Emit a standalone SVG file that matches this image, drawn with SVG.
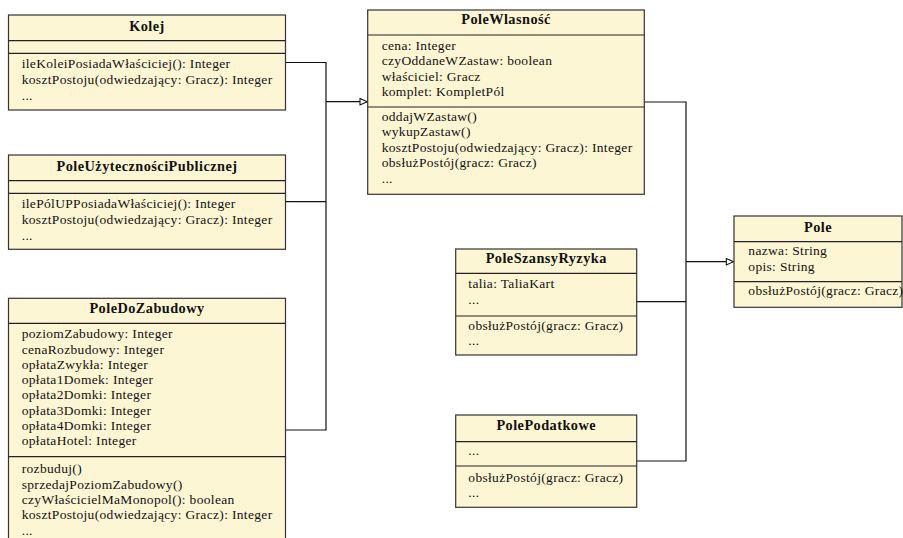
<svg xmlns="http://www.w3.org/2000/svg" width="903" height="538" viewBox="0 0 903 538">
  <style>
    .box { fill: #fdf6d4; stroke: #333; stroke-width: 1.2; }
    .div { stroke: #222; stroke-width: 1.2; }
    .t { font-family: 'Liberation Serif', 'Times New Roman', 'DejaVu Serif', serif; font-size: 13.5px; letter-spacing: 0.33px; fill: #111; }
    .h { font-family: 'Liberation Serif', 'Times New Roman', 'DejaVu Serif', serif; font-size: 14.3px; letter-spacing: 0.45px; font-weight: bold; fill: #111; text-anchor: middle; }
    .c { fill: none; stroke: #111; stroke-width: 1.2; }
  </style>
  <defs>
    <marker id="gen" viewBox="0 0 10 10" refX="9.5" refY="5" markerWidth="9" markerHeight="8" markerUnits="userSpaceOnUse" orient="auto">
      <path d="M0.5,1 L9.5,5 L0.5,9 Z" fill="#fff" stroke="#111" stroke-width="1.3"/>
    </marker>
  </defs>

  <!-- inheritance connectors -->
  <g id="connectors">
    <path class="c" d="M285.5,62.5 H326 V430 H285.5"/>
    <path class="c" d="M285.5,201.7 H326"/>
    <path class="c" d="M326,101.7 H367.2" marker-end="url(#gen)"/>
    <path class="c" d="M644.3,102 H686 V461 H636.7"/>
    <path class="c" d="M636.7,301.7 H686"/>
    <path class="c" d="M686,261.7 H733.5" marker-end="url(#gen)"/>
  </g>

  <g id="kolej">
    <rect class="box" x="8.5" y="15" width="277" height="95"/>
    <line class="div" x1="8.5" y1="40.7" x2="285.5" y2="40.7"/>
    <line class="div" x1="8.5" y1="53.3" x2="285.5" y2="53.3"/>
    <text class="h" x="147" y="30.7">Kolej</text>
    <text class="t" x="21.7" y="68">ileKoleiPosiadaWłaściciej(): Integer</text>
    <text class="t" x="21.7" y="84">kosztPostoju(odwiedzający: Gracz): Integer</text>
    <text class="t" x="21.7" y="100">...</text>
  </g>

  <g id="poleUzytecznosciPublicznej">
    <rect class="box" x="8.5" y="155" width="277" height="94.3"/>
    <line class="div" x1="8.5" y1="180.7" x2="285.5" y2="180.7"/>
    <line class="div" x1="8.5" y1="193.3" x2="285.5" y2="193.3"/>
    <text class="h" x="147" y="170.7">PoleUżytecznościPublicznej</text>
    <text class="t" x="21.7" y="208.3">ilePólUPPosiadaWłaściciej(): Integer</text>
    <text class="t" x="21.7" y="224">kosztPostoju(odwiedzający: Gracz): Integer</text>
    <text class="t" x="21.7" y="240">...</text>
  </g>

  <g id="poleDoZabudowy">
    <rect class="box" x="8.5" y="298.3" width="277" height="250"/>
    <line class="div" x1="8.5" y1="323.3" x2="285.5" y2="323.3"/>
    <line class="div" x1="8.5" y1="456.7" x2="285.5" y2="456.7"/>
    <text class="h" x="147" y="313.3">PoleDoZabudowy</text>
    <text class="t" x="21.7" y="338.3">poziomZabudowy: Integer</text>
    <text class="t" x="21.7" y="353.5">cenaRozbudowy: Integer</text>
    <text class="t" x="21.7" y="368.8">opłataZwykła: Integer</text>
    <text class="t" x="21.7" y="384.1">opłata1Domek: Integer</text>
    <text class="t" x="21.7" y="399.4">opłata2Domki: Integer</text>
    <text class="t" x="21.7" y="414.7">opłata3Domki: Integer</text>
    <text class="t" x="21.7" y="430">opłata4Domki: Integer</text>
    <text class="t" x="21.7" y="445.2">opłataHotel: Integer</text>
    <text class="t" x="21.7" y="473.3">rozbuduj()</text>
    <text class="t" x="21.7" y="488.6">sprzedajPoziomZabudowy()</text>
    <text class="t" x="21.7" y="504">czyWłaścicielMaMonopol(): boolean</text>
    <text class="t" x="21.7" y="519.3">kosztPostoju(odwiedzający: Gracz): Integer</text>
    <text class="t" x="21.7" y="534.7">...</text>
  </g>

  <g id="poleWlasnosc">
    <rect class="box" x="367.7" y="10" width="276.6" height="184.3"/>
    <line class="div" x1="367.7" y1="35" x2="644.3" y2="35"/>
    <line class="div" x1="367.7" y1="107" x2="644.3" y2="107"/>
    <text class="h" x="506" y="24">PoleWlasność</text>
    <text class="t" x="381.7" y="50">cena: Integer</text>
    <text class="t" x="381.7" y="65.3">czyOddaneWZastaw: boolean</text>
    <text class="t" x="381.7" y="80.6">właściciel: Gracz</text>
    <text class="t" x="381.7" y="96">komplet: KompletPól</text>
    <text class="t" x="381.7" y="121">oddajWZastaw()</text>
    <text class="t" x="381.7" y="136.4">wykupZastaw()</text>
    <text class="t" x="381.7" y="151.8">kosztPostoju(odwiedzający: Gracz): Integer</text>
    <text class="t" x="381.7" y="167.2">obsłużPostój(gracz: Gracz)</text>
    <text class="t" x="381.7" y="182.6">...</text>
  </g>

  <g id="poleSzansyRyzyka">
    <rect class="box" x="455.7" y="249" width="181" height="106"/>
    <line class="div" x1="455.7" y1="273.3" x2="636.7" y2="273.3"/>
    <line class="div" x1="455.7" y1="316" x2="636.7" y2="316"/>
    <text class="h" x="546.2" y="263.3">PoleSzansyRyzyka</text>
    <text class="t" x="468.3" y="288.3">talia: TaliaKart</text>
    <text class="t" x="468.3" y="303.5">...</text>
    <text class="t" x="468.3" y="330">obsłużPostój(gracz: Gracz)</text>
    <text class="t" x="468.3" y="345.3">...</text>
  </g>

  <g id="polePodatkowe">
    <rect class="box" x="455.7" y="415" width="181" height="92.3"/>
    <line class="div" x1="455.7" y1="441.7" x2="636.7" y2="441.7"/>
    <line class="div" x1="455.7" y1="466" x2="636.7" y2="466"/>
    <text class="h" x="546.2" y="430">PolePodatkowe</text>
    <text class="t" x="468.3" y="455">...</text>
    <text class="t" x="468.3" y="481.7">obsłużPostój(gracz: Gracz)</text>
    <text class="t" x="468.3" y="497">...</text>
  </g>

  <g id="pole">
    <rect class="box" x="734" y="216" width="168" height="91.3"/>
    <line class="div" x1="734" y1="241.7" x2="902" y2="241.7"/>
    <line class="div" x1="734" y1="281.7" x2="902" y2="281.7"/>
    <text class="h" x="818" y="231.7">Pole</text>
    <text class="t" x="748.3" y="255">nazwa: String</text>
    <text class="t" x="748.3" y="270.5">opis: String</text>
    <text class="t" x="748.3" y="295">obsłużPostój(gracz: Gracz)</text>
  </g>
</svg>
